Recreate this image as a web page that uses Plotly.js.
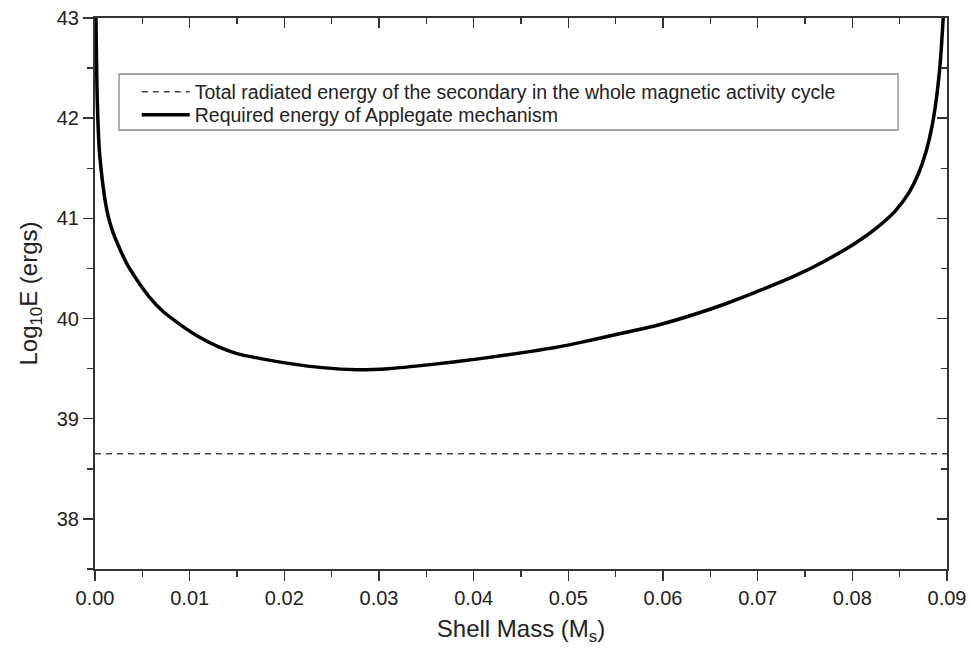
<!DOCTYPE html>
<html>
<head>
<meta charset="utf-8">
<script src="https://cdn.plot.ly/plotly-3.0.1.min.js"></script>
<style>html,body{margin:0;padding:0;background:#fff;}#chart{width:971px;height:658px;}</style>
</head>
<body>
<div id="chart"></div>
<script>
// Shell mass (M_s) and log10 E (ergs) of the required energy curve
const shellMass = [0.0001, 0.00024, 0.00046, 0.0008, 0.0011, 0.0014, 0.0019, 0.0026, 0.0034, 0.0044, 0.0057, 0.0072, 0.009, 0.0111, 0.013, 0.015, 0.0175, 0.0206, 0.024, 0.0276, 0.031, 0.0354, 0.0407, 0.0459, 0.0491, 0.0512, 0.0555, 0.0597, 0.0667, 0.0738, 0.077, 0.0801, 0.0825, 0.0845, 0.086, 0.087, 0.0878, 0.0884, 0.0889, 0.0893, 0.0896];
const requiredLogE = [43.0, 42.18, 41.68, 41.36, 41.16, 41.02, 40.86, 40.70, 40.54, 40.39, 40.22, 40.07, 39.94, 39.81, 39.72, 39.65, 39.60, 39.55, 39.51, 39.49, 39.50, 39.54, 39.60, 39.67, 39.72, 39.76, 39.85, 39.94, 40.15, 40.42, 40.57, 40.74, 40.90, 41.07, 41.26, 41.45, 41.67, 41.91, 42.21, 42.57, 43.0];
// Total radiated energy (constant)
const radiatedX = [0, 0.09];
const radiatedLogE = [38.65, 38.65];

const seriesNames = [
  "Total radiated energy of the secondary in the whole magnetic activity cycle",
  "Required energy of Applegate mechanism"
];

const xRange = [0, 0.09];
const yRange = [37.5, 43];

const traces = [
  {x: radiatedX, y: radiatedLogE, mode: 'lines', name: seriesNames[0], legend: 'legend',
   line: {color: '#444', width: 1.5, dash: '6px,5px'}},
  {x: shellMass, y: requiredLogE, mode: 'lines', name: seriesNames[1], legend: 'legend2',
   line: {color: '#000', width: 3.5, shape: 'spline', smoothing: 0.7}},
  {x: [null], y: [null], xaxis: 'x2', yaxis: 'y2', showlegend: false, hoverinfo: 'skip', mode: 'lines'}
];

const FONT = 'Liberation Sans, Arial, sans-serif';
const tickFont = {family: FONT, size: 20, color: '#222'};
const axisCommon = {
  showgrid: false, zeroline: false, showline: true, linecolor: '#333', linewidth: 2,
  tickcolor: '#333', tickwidth: 1.5, ticklen: 10, tickfont: tickFont
};
const legendCommon = {
  x: 0.049, xanchor: 'left', yanchor: 'middle', borderwidth: 0, bgcolor: 'rgba(255,255,255,0)',
  font: {family: FONT, size: 19.5, color: '#222'}, itemwidth: 48
};

const layout = {
  width: 971, height: 658,
  margin: {l: 95, r: 24, t: 18, b: 89},
  paper_bgcolor: '#fff', plot_bgcolor: '#fff',
  font: {family: FONT, color: '#222'},
  showlegend: true,
  legend: Object.assign({}, legendCommon, {y: 0.8657}),
  legend2: Object.assign({}, legendCommon, {y: 0.824}),
  shapes: [
    {type: 'rect', xref: 'paper', yref: 'paper', x0: 0.0282, x1: 0.9425, y0: 0.7967, y1: 0.8984,
     line: {color: '#888', width: 1.3}, fillcolor: 'rgba(0,0,0,0)', layer: 'above'}
  ],
  xaxis: Object.assign({}, axisCommon, {
    range: xRange, dtick: 0.01, tick0: 0, tickformat: '.2f', ticks: 'outside',
    minor: {dtick: 0.005, ticks: 'outside', ticklen: 6, tickcolor: '#333', tickwidth: 1.5},
    title: {text: 'Shell Mass (M<sub>s</sub>)', font: {family: FONT, size: 24, color: '#222'}, standoff: 12}
  }),
  yaxis: Object.assign({}, axisCommon, {
    range: yRange, dtick: 1, tick0: 38, ticks: 'outside',
    minor: {dtick: 0.5, ticks: 'outside', ticklen: 6, tickcolor: '#333', tickwidth: 1.5},
    title: {text: 'Log<sub>10</sub>E (ergs)', font: {family: FONT, size: 24, color: '#222'}, standoff: 12}
  }),
  xaxis2: Object.assign({}, axisCommon, {
    overlaying: 'x', side: 'top', anchor: 'y2', range: xRange, dtick: 0.01, tick0: 0,
    ticks: 'inside', showticklabels: false,
    minor: {dtick: 0.005, ticks: 'inside', ticklen: 6, tickcolor: '#333', tickwidth: 1.5}
  }),
  yaxis2: Object.assign({}, axisCommon, {
    overlaying: 'y', side: 'right', anchor: 'x2', range: yRange, dtick: 1, tick0: 38,
    ticks: 'inside', showticklabels: false,
    minor: {dtick: 0.5, ticks: 'inside', ticklen: 6, tickcolor: '#333', tickwidth: 1.5}
  })
};

Plotly.newPlot('chart', traces, layout, {displayModeBar: false, staticPlot: true});
</script>
</body>
</html>
